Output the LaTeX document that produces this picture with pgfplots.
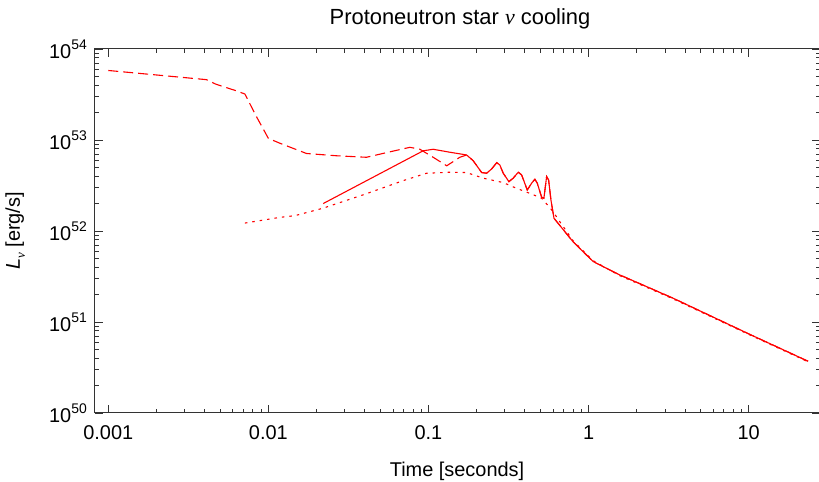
\documentclass[border=0pt]{standalone}
\usepackage{fontspec}
\setmainfont{Liberation Sans}
\newfontfamily\serif{Liberation Serif}
\usepackage{pgfplots}
\pgfplotsset{compat=1.18}
\newcommand\tp[1]{10\raisebox{0.45em}{\fontsize{14}{14}\selectfont #1}}

\begin{document}
\begin{tikzpicture}
\path[use as bounding box] (-95bp,-69bp) rectangle (724bp,413bp);
\begin{axis}[
  scale only axis, width=724.5bp, height=364bp,
  xmode=log, ymode=log,
  xmin=0.000826, xmax=27.7, ymin=1e50, ymax=1e54,
  xtick={0.001,0.01,0.1,1,10},
  xticklabels={0.001,0.01,0.1,1,10},
  minor xtick={0.002,0.003,0.004,0.005,0.006,0.007,0.008,0.009,
    0.02,0.03,0.04,0.05,0.06,0.07,0.08,0.09,
    0.2,0.3,0.4,0.5,0.6,0.7,0.8,0.9,
    2,3,4,5,6,7,8,9},
  ytick={1e50,1e51,1e52,1e53,1e54},
  yticklabels={\tp{50},\tp{51},\tp{52},\tp{53},\tp{54}},
  minor ytick={2e50,3e50,4e50,5e50,6e50,7e50,8e50,9e50,
    2e51,3e51,4e51,5e51,6e51,7e51,8e51,9e51,
    2e52,3e52,4e52,5e52,6e52,7e52,8e52,9e52,
    2e53,3e53,4e53,5e53,6e53,7e53,8e53,9e53},
  major tick length=8bp, minor tick length=4bp,
  tick style={black!80, line width=0.8bp},
  axis line style={black!80, line width=1bp},
  tick align=inside,
  xticklabel style={font=\fontsize{20}{24}\selectfont, anchor=base, inner sep=0pt, yshift=-27bp},
  yticklabel style={font=\fontsize{20}{24}\selectfont, anchor=base east, inner sep=0pt, xshift=-8bp, yshift=-10bp},
  clip=true,
]
\addplot[red, line width=1.1bp] coordinates {
(0.022, 2.0e52) (0.0927, 7.6e52) (0.107, 7.9e52) (0.136, 7.33e52)
(0.173, 6.84e52) (0.190, 5.93e52) (0.215, 4.38e52) (0.231, 4.31e52)
(0.248, 4.80e52) (0.267, 5.63e52) (0.279, 5.31e52) (0.293, 4.31e52)
(0.318, 3.48e52) (0.338, 3.80e52) (0.364, 4.42e52) (0.382, 4.12e52)
(0.414, 2.82e52) (0.441, 3.35e52) (0.462, 3.70e52) (0.478, 3.35e52)
(0.509, 2.35e52) (0.526, 2.29e52) (0.547, 3.96e52) (0.563, 3.63e52)
(0.582, 2.19e52) (0.608, 1.38e52) (0.80, 7.6e51) (1.07, 4.6e51)
(1.57, 3.28e51) (2.31, 2.44e51) (3.38, 1.82e51) (10, 7.4e50) (23.5, 3.7e50)
};
\addplot[red, line width=1.1bp, dash pattern=on 10bp off 5bp] coordinates {
(0.001, 5.8e53) (0.0041, 4.6e53) (0.0047, 4.1e53) (0.0062, 3.5e53)
(0.00713, 3.2e53) (0.00843, 1.8e53) (0.01, 1.04e53) (0.0118, 9.2e52)
(0.0173, 7.1e52) (0.0267, 6.7e52) (0.041, 6.45e52) (0.0574, 7.4e52)
(0.0766, 8.3e52) (0.0884, 7.9e52) (0.107, 6.45e52) (0.130, 5.2e52)
(0.157, 6.45e52) (0.173, 6.84e52) (0.190, 5.93e52) (0.215, 4.38e52)
(0.231, 4.31e52) (0.248, 4.80e52) (0.267, 5.63e52) (0.279, 5.31e52)
(0.293, 4.31e52) (0.318, 3.48e52) (0.338, 3.80e52) (0.364, 4.42e52)
(0.382, 4.12e52) (0.414, 2.82e52) (0.441, 3.35e52) (0.462, 3.70e52)
(0.478, 3.35e52) (0.509, 2.35e52) (0.526, 2.29e52) (0.547, 3.96e52)
(0.563, 3.63e52) (0.582, 2.19e52) (0.608, 1.38e52) (0.80, 7.6e51)
(1.07, 4.6e51) (1.57, 3.28e51) (2.31, 2.44e51) (3.38, 1.82e51)
(10, 7.4e50) (23.5, 3.7e50)
};
\addplot[red, line width=1.1bp, dash pattern=on 2.5bp off 5bp] coordinates {
(0.00713, 1.22e52) (0.0118, 1.41e52) (0.0146, 1.47e52) (0.022, 1.78e52)
(0.039, 2.49e52) (0.0695, 3.57e52) (0.097, 4.3e52) (0.136, 4.42e52)
(0.173, 4.38e52) (0.22, 3.8e52) (0.293, 3.4e52) (0.355, 2.94e52)
(0.427, 2.6e52) (0.509, 2.29e52) (0.566, 1.85e52) (0.60, 1.63e52)
(0.65, 1.32e52) (0.80, 7.8e51) (1.07, 4.7e51) (1.57, 3.22e51)
(2.31, 2.4e51) (3.38, 1.79e51) (10, 7.3e50) (23.5, 3.65e50)
};
\end{axis}
\node[anchor=base, font=\fontsize{22}{26}\selectfont, inner sep=0pt] at (365bp,388bp)
  {Protoneutron star {\serif\itshape ν} cooling};
\node[anchor=base, font=\fontsize{20}{24}\selectfont, inner sep=0pt] at (362bp,-63bp)
  {Time [seconds]};
\node[anchor=base, rotate=90, font=\fontsize{20}{24}\selectfont, inner sep=0pt] at (-75bp,182bp)
  {{\itshape L}\raisebox{-0.25em}{\fontsize{13}{13}\selectfont\serif\itshape ν} [erg/s]};
\end{tikzpicture}
\end{document}
